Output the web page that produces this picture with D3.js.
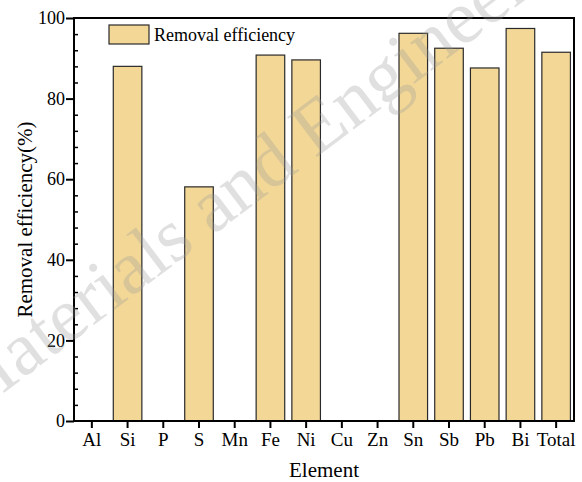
<!DOCTYPE html>
<html>
<head>
<meta charset="utf-8">
<script src="https://cdn.jsdelivr.net/npm/d3@7"></script>
<style>
  body { margin: 0; background: #fff; }
  text { font-family: "Liberation Serif", "Times New Roman", serif; fill: #000; }
</style>
</head>
<body>
<div id="chart-area"></div>
<script>
// data
const elements = ["Al", "Si", "P", "S", "Mn", "Fe", "Ni", "Cu", "Zn", "Sn", "Sb", "Pb", "Bi", "Total"];
const efficiency = [0, 88.0, 0, 58.1, 0, 90.8, 89.6, 0, 0, 96.2, 92.5, 87.6, 97.4, 91.5];
const yTicks = [0, 20, 40, 60, 80, 100];
const seriesName = "Removal efficiency";

const W = 582, H = 482;
const margin = { top: 18, right: 8, bottom: 61, left: 74 };
const width = W - margin.left - margin.right;
const height = H - margin.top - margin.bottom;

const svg = d3.select("#chart-area").append("svg")
    .attr("width", W)
    .attr("height", H);

const g = svg.append("g")
    .attr("transform", `translate(${margin.left}, ${margin.top})`);

const x = d3.scaleBand()
    .domain(elements)
    .range([0, width])
    .paddingInner(0.2)
    .paddingOuter(0.1);

const y = d3.scaleLinear()
    .domain([0, 100])
    .range([height, 0]);

// bars
g.selectAll("rect.bar")
    .data(elements.map((e, i) => ({ name: e, value: efficiency[i] })).filter(d => d.value > 0))
    .enter()
    .append("rect")
    .attr("class", "bar")
    .attr("x", d => x(d.name))
    .attr("y", d => y(d.value))
    .attr("width", x.bandwidth())
    .attr("height", d => height - y(d.value))
    .attr("fill", "#f2d796")
    .attr("stroke", "#2a2a2a")
    .attr("stroke-width", 1.2);

// minor y ticks (inside)
const yMinor = d3.axisLeft(y)
    .tickValues(d3.range(0, 101, 4).filter(v => v % 20 !== 0))
    .tickSize(-4)
    .tickFormat("");
g.append("g")
    .call(yMinor)
    .call(s => s.select(".domain").remove())
    .selectAll("line").attr("stroke", "#000").attr("stroke-width", 1.5);

// major y ticks (outside)
const yAxisCall = d3.axisLeft(y)
    .tickValues(yTicks)
    .tickSize(8)
    .tickPadding(1);
g.append("g")
    .attr("class", "y axis")
    .call(yAxisCall)
    .call(s => s.select(".domain").remove())
    .call(s => s.selectAll("line").attr("stroke", "#000").attr("stroke-width", 2))
    .selectAll("text")
    .style("font-size", "18px");

// x axis
const xAxisCall = d3.axisBottom(x)
    .tickSize(7)
    .tickPadding(5);
g.append("g")
    .attr("class", "x axis")
    .attr("transform", `translate(0, ${height})`)
    .call(xAxisCall)
    .call(s => s.select(".domain").remove())
    .call(s => s.selectAll("line").attr("stroke", "#000").attr("stroke-width", 2))
    .selectAll("text")
    .style("font-size", "19px");

// frame
g.append("rect")
    .attr("x", 0)
    .attr("y", 0)
    .attr("width", width)
    .attr("height", height)
    .attr("fill", "none")
    .attr("stroke", "#000")
    .attr("stroke-width", 2);

// legend
g.append("rect")
    .attr("x", 35)
    .attr("y", 7)
    .attr("width", 40)
    .attr("height", 19)
    .attr("fill", "#f2d796")
    .attr("stroke", "#2a2a2a")
    .attr("stroke-width", 1.2);
g.append("text")
    .attr("x", 80)
    .attr("y", 23)
    .style("font-size", "18px")
    .text(seriesName);

// axis titles
svg.append("text")
    .attr("x", margin.left + width / 2)
    .attr("y", 477)
    .attr("text-anchor", "middle")
    .style("font-size", "21px")
    .text("Element");

svg.append("text")
    .attr("transform", `translate(32, ${margin.top + height / 2}) rotate(-90)`)
    .attr("text-anchor", "middle")
    .style("font-size", "21px")
    .text("Removal efficiency(%)");

// watermark
svg.append("text")
    .attr("transform", "translate(-32, 420) rotate(-37)")
    .style("font-size", "76px")
    .style("fill", "#9a9a9a")
    .style("opacity", 0.3)
    .text("Materials and Engineering");
</script>
</body>
</html>
